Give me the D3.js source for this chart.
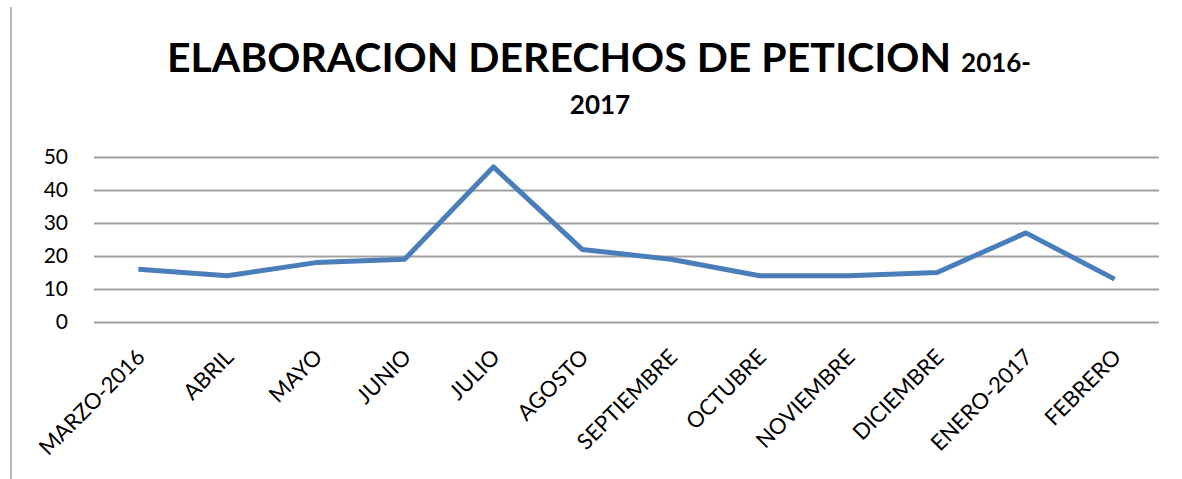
<!DOCTYPE html>
<html>
<head>
<meta charset="utf-8">
<script src="https://cdn.jsdelivr.net/npm/d3@7"></script>
<style>
  body { margin: 0; background: #fff; }
  svg text { font-family: Lato, "Open Sans", sans-serif; fill: #000; }
</style>
</head>
<body>
<div id="chart"></div>
<script>
var months = ['MARZO-2016', 'ABRIL', 'MAYO', 'JUNIO', 'JULIO', 'AGOSTO', 'SEPTIEMBRE',
              'OCTUBRE', 'NOVIEMBRE', 'DICIEMBRE', 'ENERO-2017', 'FEBRERO'];
var peticiones = [16, 14, 18, 19, 47, 22, 19, 14, 14, 15, 27, 13];
var yTicks = [0, 10, 20, 30, 40, 50];

var width = 1182, height = 479;
var margin = {top: 157, right: 23, bottom: 157, left: 94};
var chartWidth = width - margin.left - margin.right;
var chartHeight = height - margin.top - margin.bottom;

var svg = d3.select('#chart').append('svg')
    .attr('width', width)
    .attr('height', height);

// gray frame line on the left
svg.append('line')
    .attr('x1', 11).attr('x2', 11)
    .attr('y1', 7).attr('y2', height)
    .attr('stroke', '#b8b8b8')
    .attr('stroke-width', 2);

// title
var title = svg.append('text')
    .attr('x', 599)
    .attr('y', 72)
    .attr('text-anchor', 'middle')
    .attr('font-weight', 'bold');
title.append('tspan').attr('font-size', 41).text('ELABORACION DERECHOS DE PETICION ');
title.append('tspan').attr('font-size', 26).text('2016-');
svg.append('text')
    .attr('x', 600)
    .attr('y', 114)
    .attr('text-anchor', 'middle')
    .attr('font-weight', 'bold')
    .attr('font-size', 26)
    .text('2017');

var g = svg.append('g')
    .attr('transform', `translate(${margin.left}, ${margin.top})`);

var xScale = d3.scalePoint()
    .domain(months)
    .range([0, chartWidth])
    .padding(0.5);

var yScale = d3.scaleLinear()
    .domain([0, 50])
    .range([chartHeight, 0]);

var yAxis = d3.axisLeft(yScale)
    .tickValues(yTicks)
    .tickSize(-chartWidth)
    .tickPadding(26);

g.append('g')
    .attr('class', 'y axis')
    .call(yAxis)
    .call(a => a.select('.domain').remove())
    .call(a => a.selectAll('line').attr('stroke', '#a0a0a0').attr('stroke-width', 2))
    .call(a => a.selectAll('text').attr('font-size', 21).style('font-family', 'Lato, sans-serif'));

var xAxis = d3.axisBottom(xScale).tickSize(0).tickPadding(0);

g.append('g')
    .attr('class', 'x axis')
    .attr('transform', `translate(0, ${chartHeight})`)
    .call(xAxis)
    .call(a => a.select('.domain').remove())
    .call(a => a.selectAll('text')
        .attr('font-size', 22)
        .style('font-family', 'Lato, sans-serif')
        .attr('text-anchor', 'end')
        .attr('dy', '0.35em')
        .attr('transform', 'translate(2, 31) rotate(-45)'));

var line = d3.line()
    .x((d, i) => xScale(months[i]))
    .y(d => yScale(d));

g.append('path')
    .datum(peticiones)
    .attr('fill', 'none')
    .attr('stroke', '#4a7ebb')
    .attr('stroke-width', 5)
    .attr('stroke-linejoin', 'round')
    .attr('d', line);
</script>
</body>
</html>
